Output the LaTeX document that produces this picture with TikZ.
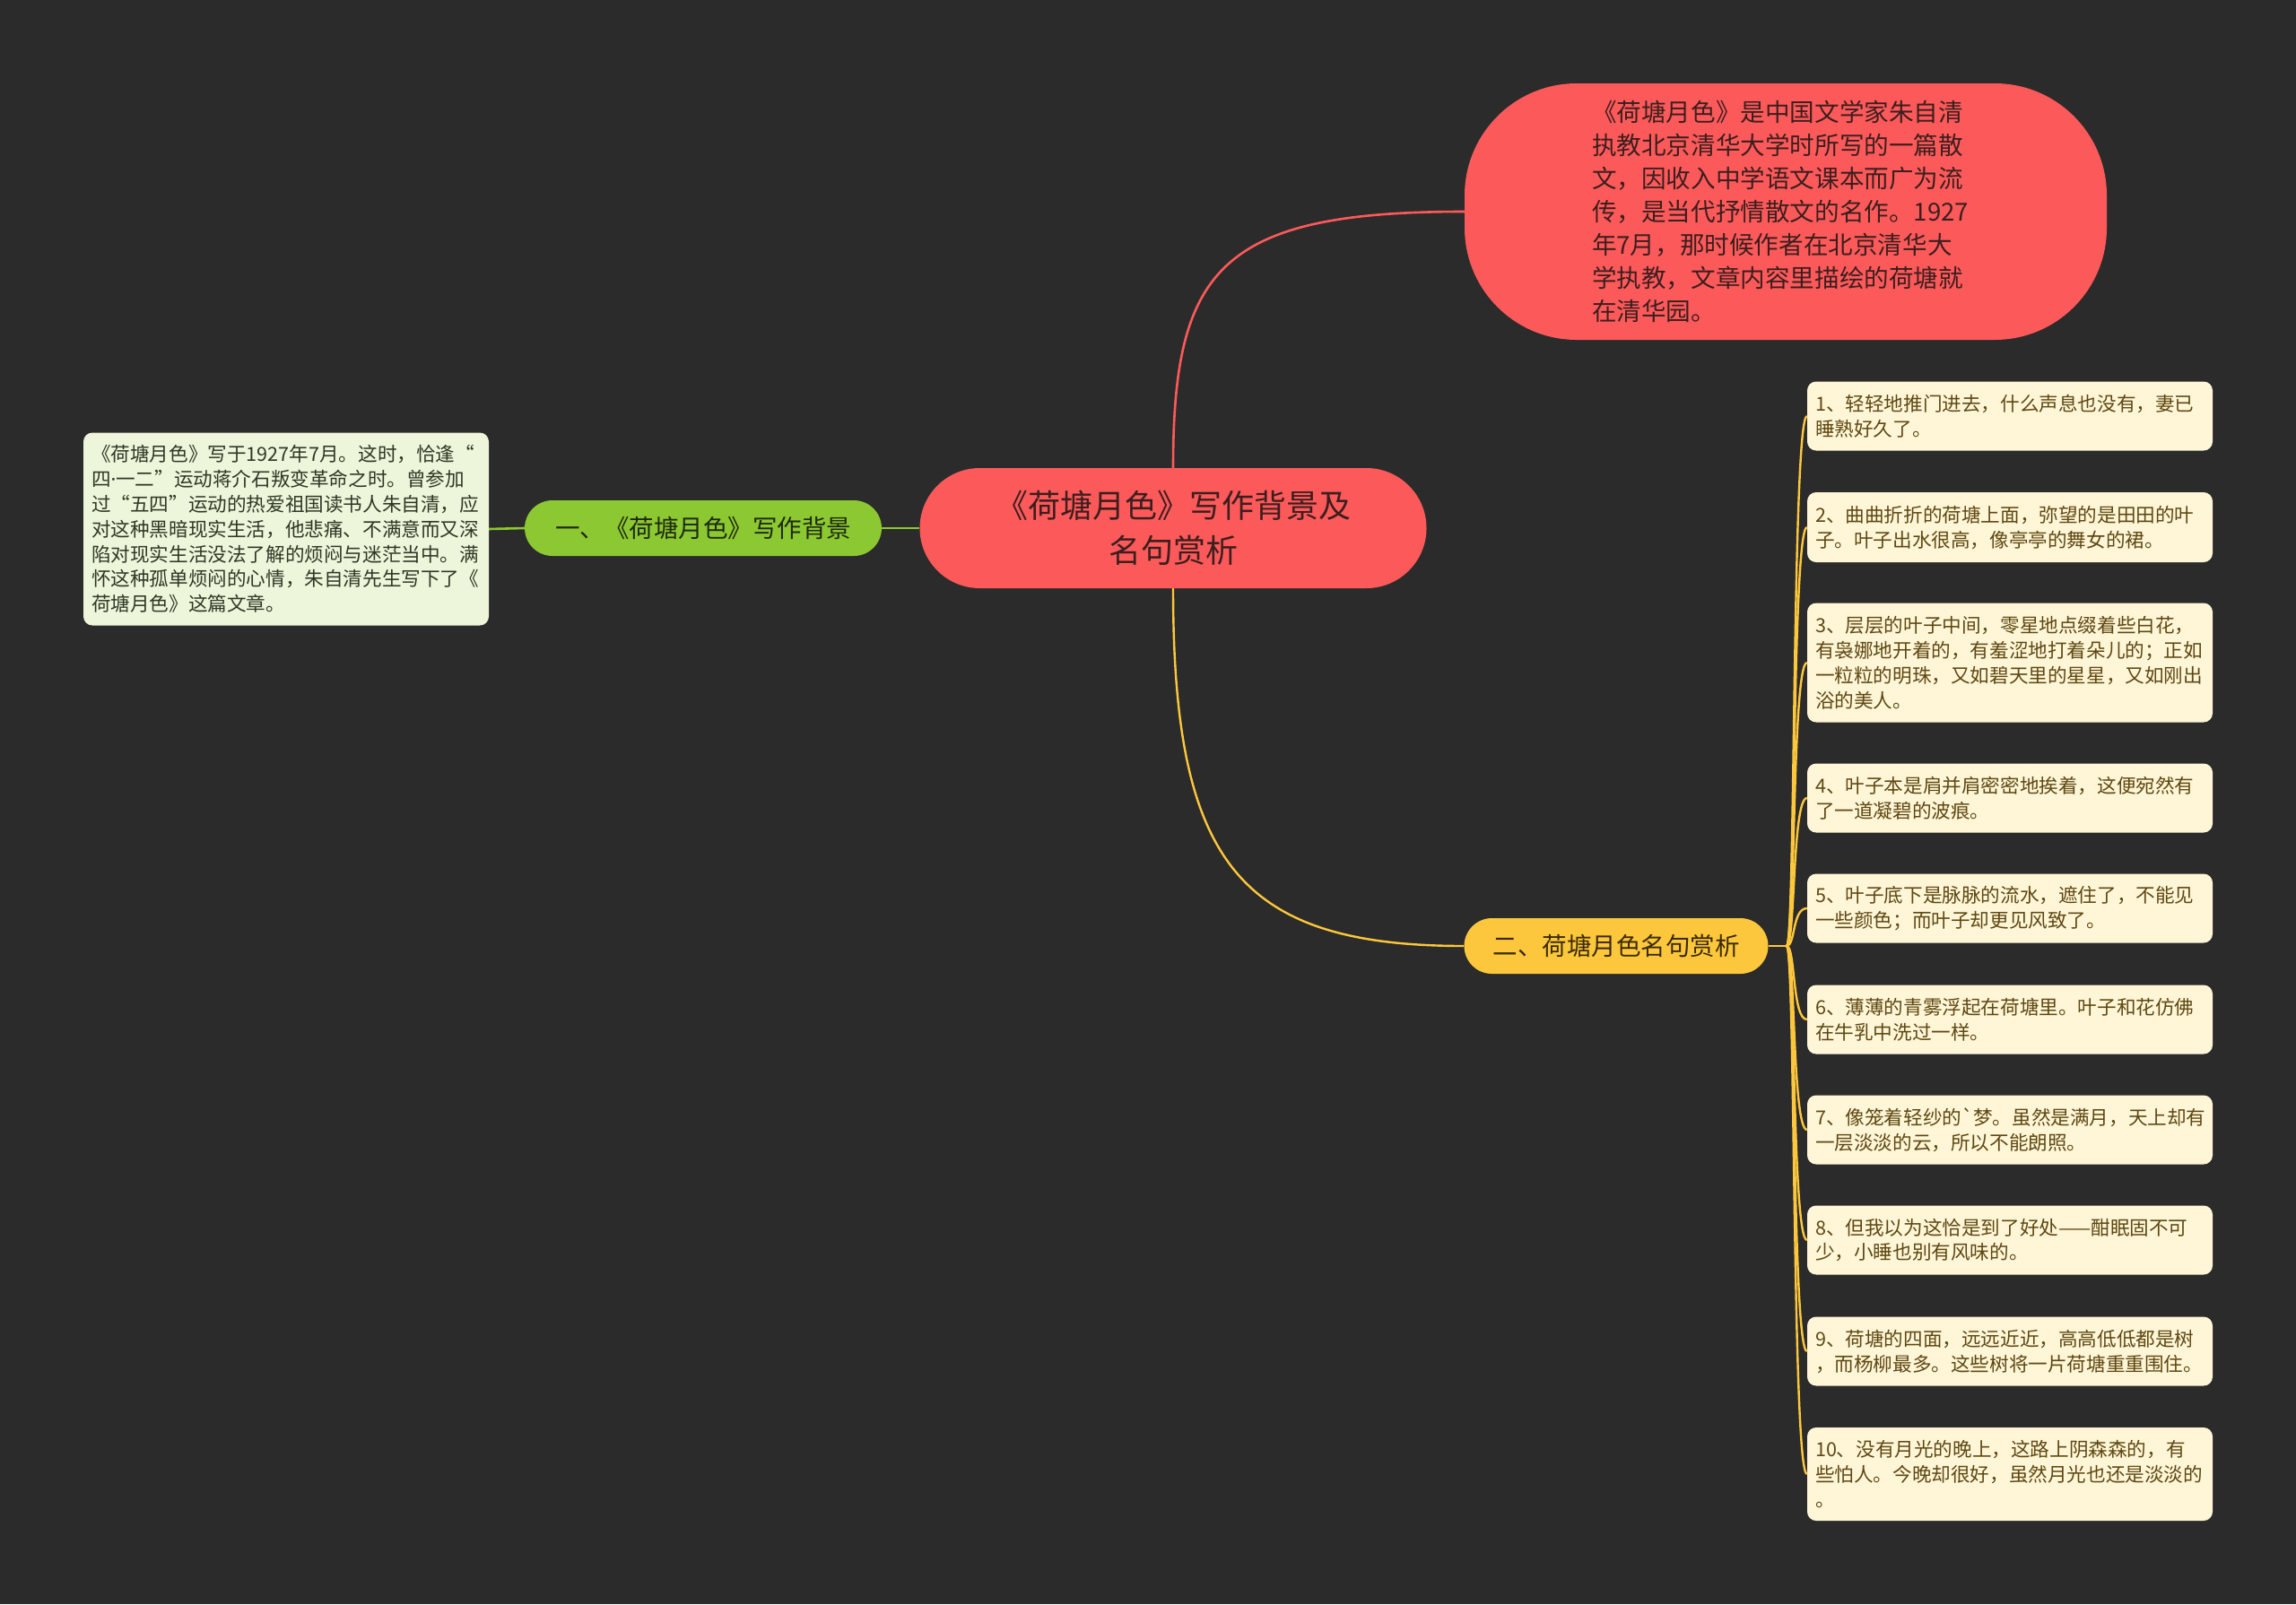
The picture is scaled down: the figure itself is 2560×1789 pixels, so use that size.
\documentclass[tikz,border=0pt]{standalone}
\usepackage{fontspec}
\setmainfont{Noto Sans CJK SC}
\newfontfamily\rawcjk{Noto Sans CJK SC}
\newfontfamily\latinsans{Noto Sans}
\usetikzlibrary{positioning}

\definecolor{bgdark}{HTML}{2B2B2B}
\definecolor{rootred}{HTML}{FC5A5A}
\definecolor{roottext}{HTML}{3D1E1E}
\definecolor{leafgreen}{HTML}{8CC832}
\definecolor{greentext}{HTML}{1E2A0E}
\definecolor{paleleaf}{HTML}{EDF5DA}
\definecolor{paletext}{HTML}{2E3826}
\definecolor{leafyellow}{HTML}{FCC73C}
\definecolor{yellowtext}{HTML}{3A2A08}
\definecolor{cream}{HTML}{FFF6D8}
\definecolor{creamtext}{HTML}{5E4812}

\begin{document}
\begin{tikzpicture}[x=1pt, y=-1pt,
  rootnode/.style={fill=rootred, text=roottext, rounded corners=67pt,
    minimum width=565pt, minimum height=134pt, inner sep=0pt,
    align=center, font=\fontsize{36}{50}\selectfont},
  intronode/.style={fill=rootred, text=roottext, rounded corners=125pt,
    minimum width=716pt, minimum height=286pt, inner sep=0pt,
    text width=432pt, align=left, font=\fontsize{27.6}{37}\selectfont},
  branchgreen/.style={fill=leafgreen, text=greentext, rounded corners=31pt,
    minimum width=398pt, minimum height=62pt, inner sep=0pt,
    font=\fontsize{27.5}{34}\selectfont},
  branchyellow/.style={fill=leafyellow, text=yellowtext, rounded corners=31pt,
    minimum width=339pt, minimum height=62pt, inner sep=0pt,
    font=\fontsize{27.5}{34}\selectfont},
  notegreen/.style={fill=paleleaf, text=paletext, rounded corners=10pt,
    text width=434pt, inner xsep=9pt, inner ysep=0pt, align=left,
    font=\fontsize{21.6}{27.8}\selectfont},
  noteyellow/.style={fill=cream, text=creamtext, rounded corners=10pt,
    text width=434pt, inner xsep=9pt, inner ysep=0pt, align=left,
    font=\fontsize{21.6}{28}\selectfont},
  redline/.style={draw=rootred, line width=2.6pt},
  greenline/.style={draw=leafgreen, line width=2.6pt},
  yellowline/.style={draw=leafyellow, line width=2.4pt}]

  % === 背景与画幅 ===
  \fill[bgdark] (0,0) rectangle (2560,1789);
  \useasboundingbox (0,0) rectangle (2560,1789);

  % === 中心主题 ===
  \node[rootnode] (root) at (1308,589) {《荷塘月色》写作背景及\\名句赏析};

  % === 上方简介 ===
  \node[intronode] (intro) at (1991,236) {《荷塘月色》是中国文学家朱自清\\
    执教北京清华大学时所写的一篇散\\
    文，因收入中学语文课本而广为流\\
    传，是当代抒情散文的名作。1927\\
    年7月，那时候作者在北京清华大\\
    学执教，文章内容里描绘的荷塘就\\
    在清华园。};

  % === 左侧分支：写作背景 ===
  \node[branchgreen] (bgone) at (784,589) {一、《荷塘月色》写作背景};
  \node[notegreen, minimum height=215pt] (bgnote) at (319,590) {《荷塘月色》写于1927年7月。这时，恰逢“\\
    四{\latinsans ·}一二”运动蒋介石叛变革命之时。曾参加\\
    过“五四”运动的热爱祖国读书人朱自清，应\\
    对这种黑暗现实生活，他悲痛、不满意而又深\\
    陷对现实生活没法了解的烦闷与迷茫当中。满\\
    怀这种孤单烦闷的心情，朱自清先生写下了《\\
    荷塘月色》这篇文章。};

  % === 右下分支：名句赏析 ===
  \node[branchyellow] (bgtwo) at (1802,1055) {二、荷塘月色名句赏析};

  % 名句（共十条）
  \node[noteyellow, minimum height=77pt] (qa) at (2241,464) {1、轻轻地推门进去，什么声息也没有，妻已\\睡熟好久了。};
  \node[noteyellow, minimum height=78pt] (qb) at (2241,588) {2、曲曲折折的荷塘上面，弥望的是田田的叶\\子。叶子出水很高，像亭亭的舞女的裙。};
  \node[noteyellow, minimum height=133pt] (qc) at (2241,739) {3、层层的叶子中间，零星地点缀着些白花，\\有袅娜地开着的，有羞涩地打着朵儿的；正如\\一粒粒的明珠，又如碧天里的星星，又如刚出\\浴的美人。};
  \node[noteyellow, minimum height=77pt] (qd) at (2241,890) {4、叶子本是肩并肩密密地挨着，这便宛然有\\了一道凝碧的波痕。};
  \node[noteyellow, minimum height=77pt] (qe) at (2241,1013) {5、叶子底下是脉脉的流水，遮住了，不能见\\一些颜色；而叶子却更见风致了。};
  \node[noteyellow, minimum height=77pt] (qf) at (2241,1137) {6、薄薄的青雾浮起在荷塘里。叶子和花仿佛\\在牛乳中洗过一样。};
  \node[noteyellow, minimum height=77pt] (qg) at (2241,1260) {7、像笼着轻纱的{\rawcjk `}梦。虽然是满月，天上却有\\一层淡淡的云，所以不能朗照。};
  \node[noteyellow, minimum height=77pt] (qh) at (2241,1383) {8、但我以为这恰是到了好处——酣眠固不可\\少，小睡也别有风味的。};
  \node[noteyellow, minimum height=77pt] (qi) at (2241,1507) {9、荷塘的四面，远远近近，高高低低都是树\\，而杨柳最多。这些树将一片荷塘重重围住。};
  \node[noteyellow, minimum height=104pt] (qj) at (2241,1644) {10、没有月光的晚上，这路上阴森森的，有\\些怕人。今晚却很好，虽然月光也还是淡淡的\\。};

  % === 连线 ===
  \draw[redline] (root.north) .. controls (1308,300) and (1360,236) .. (intro.west);
  \draw[yellowline] (root.south) .. controls (1308,960) and (1380,1055) .. (bgtwo.west);
  \draw[greenline] (root.west) -- (bgone.east);
  \draw[greenline] (bgone.west) -- (bgnote.east);

  % 名句分支的汇合点
  \coordinate (hub) at (1992,1055);
  \draw[yellowline] (bgtwo.east) -- (hub);
  \draw[yellowline] (hub) .. controls (2002,1055) and (1998,464) .. (qa.west);
  \draw[yellowline] (hub) .. controls (2002,1055) and (1998,588) .. (qb.west);
  \draw[yellowline] (hub) .. controls (2002,1055) and (1998,739) .. (qc.west);
  \draw[yellowline] (hub) .. controls (2002,1055) and (1998,890) .. (qd.west);
  \draw[yellowline] (hub) .. controls (2002,1055) and (1998,1013) .. (qe.west);
  \draw[yellowline] (hub) .. controls (2002,1055) and (1998,1137) .. (qf.west);
  \draw[yellowline] (hub) .. controls (2002,1055) and (1998,1260) .. (qg.west);
  \draw[yellowline] (hub) .. controls (2002,1055) and (1998,1383) .. (qh.west);
  \draw[yellowline] (hub) .. controls (2002,1055) and (1998,1507) .. (qi.west);
  \draw[yellowline] (hub) .. controls (2002,1055) and (1998,1644) .. (qj.west);
\end{tikzpicture}
\end{document}
